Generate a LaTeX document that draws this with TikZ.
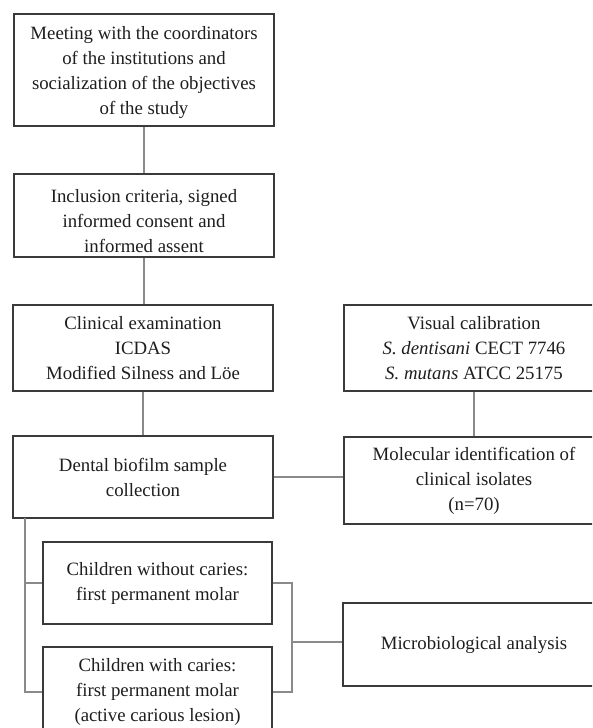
\documentclass[tikz,border=0pt]{standalone}
\usepackage{fontspec}
\setmainfont{Liberation Serif}
\definecolor{boxline}{HTML}{3A3A3A}
\definecolor{conline}{HTML}{8A8A8A}
\definecolor{txt}{HTML}{1E1E1E}
\begin{document}
\begin{tikzpicture}[x=1pt,y=-1pt,
  box/.style={draw=boxline, line width=1.4pt, rectangle, inner sep=0pt, align=center,
    text=txt, font=\fontsize{18.8}{25}\selectfont},
  con/.style={draw=conline, line width=1.3pt}]
\useasboundingbox (0,0) rectangle (592,728);
\clip (0,0) rectangle (592,728);
\fill[white] (0,0) rectangle (592,728);
% nodes
\node[box, minimum width=260pt, minimum height=112pt] (b1) at (144,70) {};
\node[txt, align=center, font=\fontsize{18.8}{25}\selectfont] (t1) at (144,73) {Meeting with the coordinators\\of the institutions and\\socialization of the objectives\\of the study};
\node[box, minimum width=260pt, minimum height=83pt] (b2) at (144,215.5) {};
\node[txt, align=center, font=\fontsize{18.8}{25}\selectfont] (t2) at (144,221) {Inclusion criteria, signed\\informed consent and\\informed assent};
\node[box, minimum width=260pt, minimum height=86pt] (b3) at (143,348) {Clinical examination\\ICDAS\\Modified Silness and Löe};
\node[box, minimum width=260pt, minimum height=86pt] (b4) at (474,348) {Visual calibration\\\textit{S. dentisani} CECT 7746\\\textit{S. mutans} ATCC 25175};
\node[box, minimum width=260pt, minimum height=82pt] (b5) at (143,477) {Dental biofilm sample\\collection};
\node[box, minimum width=260pt, minimum height=87pt] (b6) at (474,480.5) {Molecular identification of\\clinical isolates\\(n=70)};
\node[box, minimum width=229pt, minimum height=82pt] (cw) at (157.5,583) {Children without caries:\\first permanent molar};
\node[box, minimum width=229pt, minimum height=90pt] (cc) at (157.5,692) {Children with caries:\\first permanent molar\\(active carious lesion)};
\node[box, minimum width=262pt, minimum height=83pt] (mb) at (474,644.5) {Microbiological analysis};
% connectors
\coordinate (lb) at (25,518);
\coordinate (rb) at (292,642);
\draw[con] (b1.south) -- (b2.north);
\draw[con] (b2.south) -- (b2.south |- b3.north);
\draw[con] (b3.south) -- (b5.north);
\draw[con] (b4.south) -- (b6.north);
\draw[con] (b5.east) -- (b5.east -| b6.west);
\draw[con] (lb) |- (cc.west);
\draw[con] (lb |- cw.west) -- (cw.west);
\draw[con] (cw.east) -| (rb) |- (cc.east);
\draw[con] (rb) -- (rb -| mb.west);
\end{tikzpicture}
\end{document}
